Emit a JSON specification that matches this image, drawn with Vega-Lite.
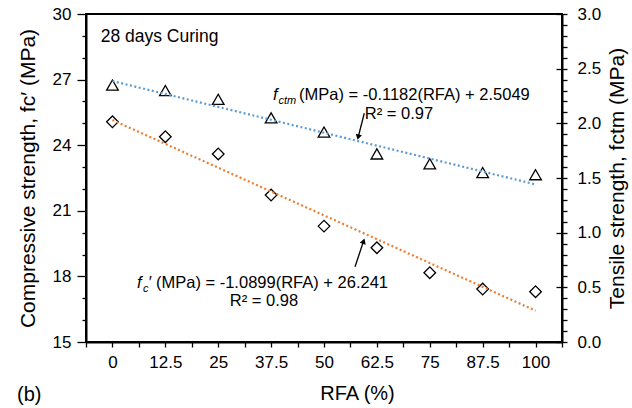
{
  "$schema": "https://vega.github.io/schema/vega-lite/v6.json",
  "width": 476,
  "height": 328,
  "autosize": {"type": "none"},
  "padding": {"left": 86, "top": 14, "right": 70, "bottom": 66},
  "background": "white",
  "config": {
    "font": "Liberation Sans",
    "view": {"stroke": "black", "strokeWidth": 2},
    "axis": {
      "grid": false,
      "domainColor": "black",
      "domainWidth": 2,
      "tickColor": "black",
      "tickWidth": 1.3,
      "labelColor": "black",
      "titleColor": "black",
      "labelFontSize": 17,
      "titleFontSize": 21,
      "titleFontWeight": "normal",
      "labelFont": "Liberation Sans",
      "titleFont": "Liberation Sans",
      "labelOverlap": false,
      "labelFlush": false,
      "labelBound": false
    }
  },
  "title": {
    "text": "(b)",
    "orient": "bottom",
    "anchor": "start",
    "frame": "bounds",
    "fontSize": 20,
    "fontWeight": "normal",
    "font": "Liberation Sans",
    "color": "black",
    "offset": 0,
    "dy": -18
  },
  "datasets": {
    "pts": [
      {"rfa": 0, "fc": 25.07, "ft": 2.35},
      {"rfa": 12.5, "fc": 24.39, "ft": 2.30},
      {"rfa": 25, "fc": 23.6, "ft": 2.22},
      {"rfa": 37.5, "fc": 21.72, "ft": 2.05},
      {"rfa": 50, "fc": 20.3, "ft": 1.92},
      {"rfa": 62.5, "fc": 19.31, "ft": 1.72},
      {"rfa": 75, "fc": 18.17, "ft": 1.63},
      {"rfa": 87.5, "fc": 17.42, "ft": 1.55},
      {"rfa": 100, "fc": 17.3, "ft": 1.53}
    ],
    "trend": [
      {"rfa": 0, "fc": 25.151, "ft": 2.3867},
      {"rfa": 100, "fc": 16.432, "ft": 1.4411}
    ],
    "notes": [
      {"id": "curing", "x": -2.78, "y": 28.72, "text": "28 days Curing"},
      {"id": "t_f", "x": 37.95, "y": 26.07, "text": "f"},
      {"id": "t_sub", "x": 39.25, "y": 26.07, "text": "ctm"},
      {"id": "t_rest", "x": 44.09, "y": 26.07, "text": "(MPa) = -0.1182(RFA) + 2.5049"},
      {"id": "t_r2", "x": 67.72, "y": 25.2, "text": "R² = 0.97"},
      {"id": "c_f", "x": 5.8, "y": 17.47, "text": "f"},
      {"id": "c_sub", "x": 7.22, "y": 17.47, "text": "c"},
      {"id": "c_prime", "x": 8.4, "y": 17.47, "text": "′"},
      {"id": "c_rest", "x": 10.29, "y": 17.47, "text": "(MPa) = -1.0899(RFA) + 26.241"},
      {"id": "c_r2", "x": 35.82, "y": 16.65, "text": "R² = 0.98"}
    ],
    "arrows": [
      {"id": "top", "x": 59.52, "y": 25.46, "x2": 58.15, "y2": 24.42, "hx": 58.08, "hy": 24.37},
      {"id": "bottom", "x": 57.33, "y": 18.44, "x2": 59.26, "y2": 19.56, "hx": 59.36, "hy": 19.61}
    ]
  },
  "layer": [
    {
      "layer": [
        {
          "data": {"name": "pts"},
          "mark": {"type": "point", "shape": "diamond", "size": 135, "filled": false, "stroke": "black", "strokeWidth": 1.3, "opacity": 1},
          "encoding": {
            "x": {
              "field": "rfa", "type": "quantitative",
              "scale": {"domain": [-6.25, 106.25], "nice": false, "zero": false},
              "axis": {
                "title": "RFA (%)",
                "values": [-6.25, 0, 6.25, 12.5, 18.75, 25, 31.25, 37.5, 43.75, 50, 56.25, 62.5, 68.75, 75, 81.25, 87.5, 93.75, 100, 106.25],
                "labelExpr": "datum.value % 12.5 === 0 ? '' + datum.value : ''",
                "tickSize": 5,
                "labelPadding": 7,
                "labelFlush": false,
                "labelOverlap": false,
                "titleX": 271,
                "titleY": 57,
                "titleBaseline": "alphabetic",
                "titleFontSize": 20
              }
            },
            "y": {
              "field": "fc", "type": "quantitative",
              "scale": {"domain": [15, 30], "nice": false, "zero": false},
              "axis": {
                "title": "Compressive strength, fc′ (MPa)",
                "values": [15, 16, 17, 18, 19, 20, 21, 22, 23, 24, 25, 26, 27, 28, 29, 30],
                "labelExpr": "datum.value % 3 === 0 ? '' + datum.value : ''",
                "tickSize": {"condition": {"test": "datum.value % 3 === 0", "value": 9}, "value": 4},
                "labelPadding": 6,
                "labelOverlap": false,
                "labelFlush": false,
                "titlePadding": 14
              }
            }
          }
        },
        {
          "data": {"name": "trend"},
          "mark": {"type": "line", "color": "#ED7D31", "strokeWidth": 2.2, "strokeDash": [2, 2.5]},
          "encoding": {
            "x": {"field": "rfa", "type": "quantitative", "axis": null},
            "y": {"field": "fc", "type": "quantitative", "axis": null}
          }
        },
        {
          "data": {"name": "notes"},
          "transform": [{"filter": "datum.id === 'curing'"}],
          "mark": {"type": "text", "align": "left", "baseline": "alphabetic", "fontSize": 17.5, "color": "black"},
          "encoding": {
            "x": {"field": "x", "type": "quantitative", "axis": null},
            "y": {"field": "y", "type": "quantitative", "axis": null},
            "text": {"field": "text"}
          }
        },
        {
          "data": {"name": "notes"},
          "transform": [{"filter": "datum.id === 't_f' || datum.id === 'c_f' || datum.id === 'c_prime'"}],
          "mark": {"type": "text", "align": "left", "baseline": "alphabetic", "fontSize": 16.5, "fontStyle": "italic", "color": "black"},
          "encoding": {
            "x": {"field": "x", "type": "quantitative", "axis": null},
            "y": {"field": "y", "type": "quantitative", "axis": null},
            "text": {"field": "text"}
          }
        },
        {
          "data": {"name": "notes"},
          "transform": [{"filter": "datum.id === 't_sub' || datum.id === 'c_sub'"}],
          "mark": {"type": "text", "align": "left", "baseline": "alphabetic", "fontSize": 11, "fontStyle": "italic", "dy": 4, "color": "black"},
          "encoding": {
            "x": {"field": "x", "type": "quantitative", "axis": null},
            "y": {"field": "y", "type": "quantitative", "axis": null},
            "text": {"field": "text"}
          }
        },
        {
          "data": {"name": "notes"},
          "transform": [{"filter": "datum.id === 't_rest' || datum.id === 'c_rest'"}],
          "mark": {"type": "text", "align": "left", "baseline": "alphabetic", "fontSize": 16.5, "color": "black"},
          "encoding": {
            "x": {"field": "x", "type": "quantitative", "axis": null},
            "y": {"field": "y", "type": "quantitative", "axis": null},
            "text": {"field": "text"}
          }
        },
        {
          "data": {"name": "notes"},
          "transform": [{"filter": "datum.id === 't_r2' || datum.id === 'c_r2'"}],
          "mark": {"type": "text", "align": "center", "baseline": "alphabetic", "fontSize": 16.5, "color": "black"},
          "encoding": {
            "x": {"field": "x", "type": "quantitative", "axis": null},
            "y": {"field": "y", "type": "quantitative", "axis": null},
            "text": {"field": "text"}
          }
        },
        {
          "data": {"name": "arrows"},
          "mark": {"type": "rule", "color": "black", "strokeWidth": 1.3},
          "encoding": {
            "x": {"field": "x", "type": "quantitative", "axis": null},
            "y": {"field": "y", "type": "quantitative", "axis": null},
            "x2": {"field": "x2"},
            "y2": {"field": "y2"}
          }
        },
        {
          "data": {"name": "arrows"},
          "transform": [{"filter": "datum.id === 'top'"}],
          "mark": {"type": "point", "shape": "triangle-up", "size": 40, "filled": true, "color": "black", "opacity": 1, "angle": 194},
          "encoding": {
            "x": {"field": "hx", "type": "quantitative", "axis": null},
            "y": {"field": "hy", "type": "quantitative", "axis": null}
          }
        },
        {
          "data": {"name": "arrows"},
          "transform": [{"filter": "datum.id === 'bottom'"}],
          "mark": {"type": "point", "shape": "triangle-up", "size": 40, "filled": true, "color": "black", "opacity": 1, "angle": 18.6},
          "encoding": {
            "x": {"field": "hx", "type": "quantitative", "axis": null},
            "y": {"field": "hy", "type": "quantitative", "axis": null}
          }
        }
      ],
      "resolve": {"axis": {"x": "independent", "y": "independent"}}
    },
    {
      "layer": [
        {
          "data": {"name": "pts"},
          "mark": {"type": "point", "shape": "triangle-up", "size": 135, "filled": false, "stroke": "black", "strokeWidth": 1.3, "opacity": 1},
          "encoding": {
            "x": {
              "field": "rfa", "type": "quantitative",
              "axis": {
                "orient": "bottom",
                "title": null,
                "values": [-6.25, 6.25, 18.75, 31.25, 43.75, 56.25, 68.75, 81.25, 93.75, 106.25],
                "labels": false,
                "domain": false,
                "tickSize": -5
              }
            },
            "y": {
              "field": "ft", "type": "quantitative",
              "scale": {"domain": [0, 3], "nice": false, "zero": false},
              "axis": {
                "orient": "right",
                "title": "Tensile strength, fctm (MPa)",
                "titleAngle": 270,
                "titleBaseline": "top",
                "values": [0, 0.1, 0.2, 0.3, 0.4, 0.5, 0.6, 0.7, 0.8, 0.9, 1, 1.1, 1.2, 1.3, 1.4, 1.5, 1.6, 1.7, 1.8, 1.9, 2, 2.1, 2.2, 2.3, 2.4, 2.5, 2.6, 2.7, 2.8, 2.9, 3],
                "labelExpr": "abs(datum.value * 2 - round(datum.value * 2)) < 0.001 ? format(datum.value, '.1f') : ''",
                "tickSize": 5,
                "labelPadding": 10,
                "labelOverlap": false,
                "labelFlush": false,
                "titlePadding": 6
              }
            }
          }
        },
        {
          "data": {"name": "trend"},
          "mark": {"type": "line", "color": "#5B9BD5", "strokeWidth": 2.2, "strokeDash": [2, 2.5]},
          "encoding": {
            "x": {"field": "rfa", "type": "quantitative", "axis": null},
            "y": {
              "field": "ft", "type": "quantitative",
              "axis": {
                "orient": "right",
                "title": null,
                "values": [0, 0.5, 1, 1.5, 2, 2.5, 3],
                "labels": false,
                "domain": false,
                "tickSize": -6
              }
            }
          }
        }
      ],
      "resolve": {"axis": {"y": "independent"}}
    }
  ],
  "resolve": {"scale": {"y": "independent"}, "axis": {"x": "independent"}}
}
